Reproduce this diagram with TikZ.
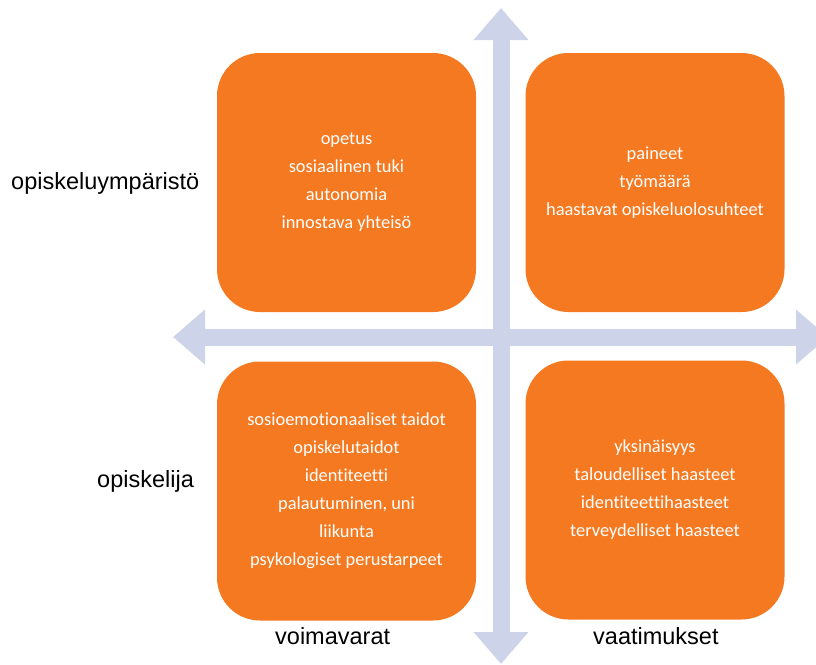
\documentclass[tikz,border=0pt]{standalone}
\usepackage{fontspec}
\setmainfont{Carlito}[Ligatures=NoCommon]
\newfontfamily\arialfont{Liberation Sans}
\usepackage{tikz}
\usetikzlibrary{arrows.meta}
\definecolor{quadorange}{HTML}{F47920}
\definecolor{axisblue}{HTML}{CDD4EA}

\begin{document}
\begin{tikzpicture}[x=1pt, y=-1pt,
				quad/.style={fill=quadorange, rounded corners=43pt, minimum width=259pt, minimum height=259pt, inner sep=0pt, text=white, align=center, font=\fontsize{18.4}{28}\selectfont},
				axis/.style={draw=axisblue, line width=17pt, {Triangle[width=53pt, length=32pt]}-{Triangle[width=53pt, length=32pt]}},
				sidelabel/.style={anchor=base west, inner sep=0pt, font=\arialfont\fontsize{23.5}{28}\selectfont}]
				\clip (0,0) rectangle (816,664);
				% axis end points
				\coordinate (up) at (501,8);
				\coordinate (down) at (501,664);
				\coordinate (left) at (173,337);
				\coordinate (right) at (828,337);
				% axes
				\draw[axis] (left) -- (right);
				\draw[axis] (down) -- (up);
				% quadrant nodes
				\node[quad] (envres) at (346.5,182.5) {opetus\\sosiaalinen tuki\\autonomia\\innostava yhteisö};
				\node[quad] (envdem) at (655,182.5) {paineet\\työmäärä\\haastavat opiskeluolosuhteet};
				\node[quad] (stures) at (346.5,491) {sosioemotionaaliset taidot\\opiskelutaidot\\identiteetti\\palautuminen, uni\\liikunta\\psykologiset perustarpeet};
				\node[quad] (studem) at (655,490) {yksinäisyys\\taloudelliset haasteet\\identiteettihaasteet\\terveydelliset haasteet};
				% row labels
				\node[sidelabel] (env) at (11,189) {opiskeluympäristö};
				\node[sidelabel] (stu) at (97,487) {opiskelija};
				% column labels
				\node[sidelabel] (res) at (275,644) {voimavarat};
				\node[sidelabel] (dem) at (593,644) {vaatimukset};
\end{tikzpicture}
\end{document}
